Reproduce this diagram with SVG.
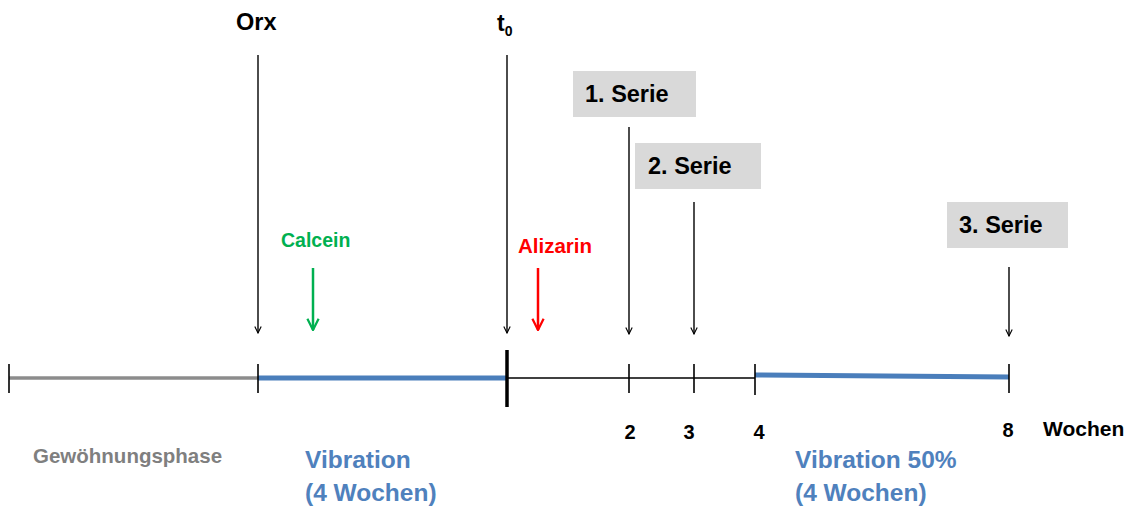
<svg xmlns="http://www.w3.org/2000/svg" width="1134" height="507" viewBox="0 0 1134 507">
<defs>
<marker id="ab" viewBox="0 0 10 10" refX="9" refY="5" markerWidth="8" markerHeight="8" markerUnits="userSpaceOnUse" orient="auto"><path d="M1,1 L9,5 L1,9" fill="none" stroke="#000" stroke-width="1.4"/></marker>
<marker id="ag" viewBox="0 0 10 10" refX="9" refY="5" markerWidth="14" markerHeight="14" markerUnits="userSpaceOnUse" orient="auto"><path d="M1,1 L9,5 L1,9" fill="none" stroke="#00b050" stroke-width="1.6"/></marker>
<marker id="ar" viewBox="0 0 10 10" refX="9" refY="5" markerWidth="14" markerHeight="14" markerUnits="userSpaceOnUse" orient="auto"><path d="M1,1 L9,5 L1,9" fill="none" stroke="#ff0000" stroke-width="1.6"/></marker>
</defs>
<style>
text{font-family:"Liberation Sans",Arial,sans-serif;font-weight:bold}
.k{fill:#000}
.box{fill:#d9d9d9}
.bl{fill:#4f81bd;font-size:24.5px}
.tick{stroke:#000;stroke-width:1.6}
.arr{stroke:#000;stroke-width:1.4;fill:none;marker-end:url(#ab)}
</style>
<rect width="1134" height="507" fill="#fff"/>
<g id="timeline">
<line x1="9" y1="378" x2="258" y2="378" stroke="#8c8c8c" stroke-width="3.5"/>
<line x1="258" y1="378" x2="507" y2="378" stroke="#4a7ebb" stroke-width="5"/>
<line x1="507" y1="378" x2="755" y2="378" stroke="#000" stroke-width="1.4"/>
<line x1="755" y1="375" x2="1009" y2="377" stroke="#4a7ebb" stroke-width="5"/>
<line class="tick" x1="9" y1="364" x2="9" y2="393"/>
<line class="tick" x1="258" y1="364" x2="258" y2="393"/>
<line x1="507" y1="350" x2="507" y2="407" stroke="#000" stroke-width="3.5"/>
<line class="tick" x1="629" y1="364" x2="629" y2="393"/>
<line class="tick" x1="694" y1="364" x2="694" y2="393"/>
<line class="tick" x1="755" y1="364" x2="755" y2="395"/>
<line class="tick" x1="1009" y1="364" x2="1009" y2="393"/>
</g>
<g id="connectors">
<line class="arr" x1="258" y1="55" x2="258" y2="333"/>
<line class="arr" x1="507" y1="55" x2="507" y2="333"/>
<line class="arr" x1="629" y1="127" x2="629" y2="334"/>
<line class="arr" x1="694" y1="202" x2="694" y2="334"/>
<line class="arr" x1="1009" y1="267" x2="1009" y2="336"/>
<line x1="313" y1="268" x2="313" y2="330" stroke="#00b050" stroke-width="2.5" marker-end="url(#ag)"/>
<line x1="538" y1="268" x2="538" y2="330" stroke="#ff0000" stroke-width="2.5" marker-end="url(#ar)"/>
</g>
<g id="orx"><text x="236" y="30" font-size="23.5" class="k">Orx</text></g>
<g id="t0"><text x="497" y="31" font-size="23" class="k">t<tspan font-size="14" dy="5">0</tspan></text></g>
<g id="serie1"><rect class="box" x="573" y="71" width="123" height="46"/><text x="585" y="102" font-size="23.5" class="k">1. Serie</text></g>
<g id="serie2"><rect class="box" x="635" y="143" width="126" height="46"/><text x="648" y="174" font-size="23.5" class="k">2. Serie</text></g>
<g id="serie3"><rect class="box" x="947" y="202" width="121" height="46"/><text x="959" y="233" font-size="23.5" class="k">3. Serie</text></g>
<g id="calcein"><text x="281" y="247" font-size="19.5" fill="#00b050">Calcein</text></g>
<g id="alizarin"><text x="518" y="253" font-size="20.5" fill="#ff0000">Alizarin</text></g>
<g id="ticklabels">
<text x="630" y="439" font-size="20" class="k" text-anchor="middle">2</text>
<text x="689" y="439" font-size="20" class="k" text-anchor="middle">3</text>
<text x="759" y="439" font-size="20" class="k" text-anchor="middle">4</text>
<text x="1008" y="437" font-size="20" class="k" text-anchor="middle">8</text>
<text x="1043" y="436" font-size="21" class="k">Wochen</text>
</g>
<g id="gewoehnung"><text x="33" y="463" font-size="20.5" fill="#7f7f7f">Gewöhnungsphase</text></g>
<g id="vibration"><text x="305" y="468" class="bl">Vibration</text><text x="305" y="501" class="bl">(4 Wochen)</text></g>
<g id="vibration50"><text x="795" y="468" class="bl">Vibration 50%</text><text x="795" y="501" class="bl">(4 Wochen)</text></g>
</svg>
